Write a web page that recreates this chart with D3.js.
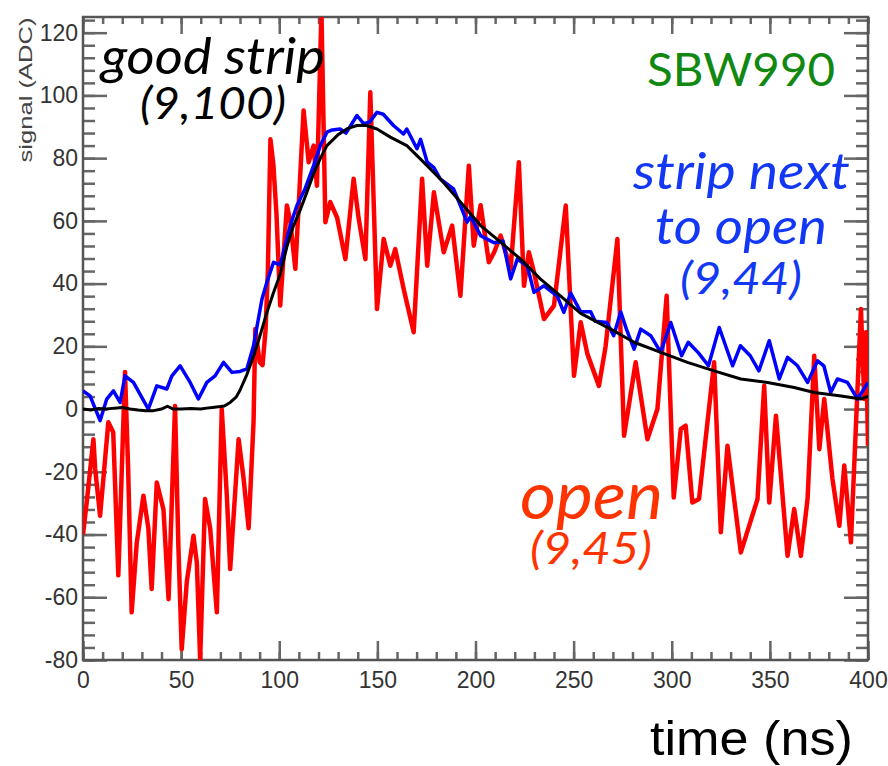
<!DOCTYPE html>
<html>
<head>
<meta charset="utf-8">
<script src="https://cdn.jsdelivr.net/npm/d3@7"></script>
<style>
  body { margin: 0; background: #fff; }
  svg { display: block; }
</style>
</head>
<body>
<svg width="888" height="766"></svg>
<script>
// time (ns) / signal (ADC)
const openTime = [0, 1.9, 5.3, 6.2, 8.7, 10.4, 12.9, 15.4, 18, 21.4, 23, 24.8, 27.4, 30.8, 33.3, 35, 37.6, 41, 43.6, 46.9,
  48.6, 50.3, 52.9, 56.3, 58, 59.7, 62.2, 64.8, 68.2, 70.7, 73.3, 75, 79.3, 81.8, 84.4, 86.9, 87.8, 90, 91.5, 93,
  94.2, 95.5, 97, 98.6, 100.5, 103.9, 105.6, 108.2, 109.9, 112.4, 115, 117.5, 119.2, 121.5, 123.5, 126, 129.5, 133.7, 137.9, 140.4,
  143.9, 146.4, 149.8, 153.2, 156.6, 159.1, 163.4, 168.5, 172.8, 175.4, 178.8, 183.8, 188.1, 192.3, 196.6, 199.1, 202.6, 206.8, 209.5, 212.8,
  217.9, 222.1, 224.7, 227.2, 229.8, 234.9, 240, 246, 248.5, 250.2, 253.6, 257, 262.9, 266.3, 272.3, 275.7, 281.6, 287.6, 292.7, 297.4,
  301, 304.6, 307.1, 310.5, 313.9, 317, 321.6, 325, 328.4, 335.2, 343.7, 347.1, 349.7, 353.1, 359, 362.4, 365.8, 369.2, 372.6, 375.2,
  377.7, 381.9, 385.4, 387.9, 391.3, 396.4, 398.1, 399, 400];
const openSignal = [-40, -29.7, -9.6, -19, -34, -22, -4.2, -7.4, -53, 11.8, -19, -64.8, -42.6, -27.6, -38, -57.4, -23.4, -32, -60.6, 1,
  -43.6, -76.6, -55, -40.4, -48.9, -79.7, -28.7, -38, -64.8, 0, -27.6, -51, -9.6, -22, -38, -4.2, 25.5, 15, 14, 25,
  44, 86, 78, 62, 33, 64.9, 60, 44.7, 65, 95.2, 78.7, 84, 71.2, 127, 59.6, 66, 61, 47.8, 73.4, 61,
  47.8, 101, 31.9, 54.2, 45.7, 51, 38.3, 24.5, 73.4, 45.7, 69.1, 50, 58.5, 36.1, 77.6, 52.1, 65, 46.8, 50, 55.3,
  44.7, 78.7, 39.3, 50, 43.6, 28.7, 33, 64.9, 32, 10.6, 27.7, 17.6, 7.4, 20, 54.2, -8.5, 14.9, -9.6, 0, 36.1,
  -28.2, -6.4, -5.3, -29.8, -28.7, -11, 14.9, -39.3, -11.7, -45.7, -28.7, 7.4, -29.8, -2.1, -46.8, -31.9, -46.8, -28.7, 17, -12.8,
  3.2, -22.3, -37.2, -18, -42.5, 31.9, 3.2, 24.5, -11.7];

const nextTime = [0, 3.6, 8.7, 12.1, 15.5, 18.9, 21.4, 25.7, 33.3, 37.6, 42.7, 45.3, 49.5, 54.6, 58.8, 63.1, 67.3, 71.6, 75.9, 80,
  83.5, 86.9, 91.2, 93.7, 97.1, 100.5, 105.6, 109, 113, 117.5, 120.9, 124.3, 127, 131, 134, 139.6, 143, 146, 149.8, 153,
  158.2, 163.3, 165, 170.2, 172, 175.4, 178.8, 182, 188.8, 192.3, 195.7, 197.5, 202.6, 209.4, 214, 217.9, 221.3, 226.4, 229.8, 234.9,
  241.7, 245, 248.5, 253.6, 258.7, 261, 267, 270.4, 274, 276.9, 280.8, 284.2, 289.3, 294.4, 299.5, 305, 308.4, 313.5, 318.7, 324.2,
  331, 335, 340, 344.4, 349.7, 354.8, 359, 364.1, 369.2, 374.3, 377.5, 381, 384.4, 389.5, 394.7, 400];
const nextSignal = [5.8, 4.2, -3.7, 3.2, 5.8, 2.1, 10.6, 8.5, 0, 7.4, 6.4, 10.6, 13.8, 8.5, 3.2, 8.5, 10.6, 14.9, 11.7, 12,
  12.8, 20.2, 35.1, 40.4, 46.8, 46, 58.5, 64.9, 70, 77.6, 84, 88.3, 89, 89.3, 88, 93.6, 91, 91.5, 94.6, 94,
  90.4, 87.7, 89.3, 83, 86, 78.7, 77, 73.4, 70.2, 64.9, 59.6, 61.4, 55.3, 53, 53.6, 41.5, 47.8, 45.6, 37.2, 39.3,
  36, 30.8, 37, 31, 31, 28, 27.6, 23.4, 31, 25.5, 19.1, 25.5, 23.4, 18.1, 27.6, 17, 21.3, 18, 13.8, 26,
  13.8, 20.2, 17, 12.2, 21.8, 9.6, 16.5, 13.8, 8.5, 15.4, 13.8, 5.3, 9.6, 8.5, 3.2, 8.5];

const goodTime = [0, 4, 8, 12, 16, 20, 24, 28, 32, 36, 40, 43, 46, 50, 55, 60, 63, 66, 70, 72,
  75, 78, 80, 83.5, 87, 90, 93.7, 97, 100.5, 104, 107, 110.7, 114, 117.5, 121, 124.3, 130, 135, 139.6, 144,
  149.8, 156.6, 165, 172, 182, 192.3, 202.6, 212.8, 223, 233, 243.4, 253.6, 268.9, 280.8, 294.4, 308, 321.6, 335.2, 348.8, 362.4,
  372.6, 386.3, 396.4, 400];
const goodSignal = [0, -0.3, 0.2, 0, 0.3, 0.5, 0, -0.3, -0.5, -0.5, 0, 0.9, 0, 0, 0.2, 0, 0.3, 0.5, 0.8, 1,
  2.1, 3.8, 6, 11, 17, 23, 30.8, 37, 43, 52, 58, 63.5, 69, 75, 80, 84, 87.5, 89.5, 90.4, 90.5,
  89.3, 86.7, 84, 79.7, 73.4, 66, 58.5, 53.2, 47.8, 41.5, 36, 30.5, 25.5, 21.3, 18.1, 14.9, 12.2, 9.6, 8.5, 6.9,
  5.3, 4.2, 3.2, 4];

const xTicks = [0, 50, 100, 150, 200, 250, 300, 350, 400];
const yTicks = [-80, -60, -40, -20, 0, 20, 40, 60, 80, 100, 120];

const svg = d3.select('svg');
const x = d3.scaleLinear().domain([0, 400]).range([83, 868]);
const y = d3.scaleLinear().domain([-80, 125]).range([660, 17]);

svg.append('clipPath').attr('id', 'plot')
  .append('rect').attr('x', 83).attr('y', 17).attr('width', 785).attr('height', 643);

// ticks all round, pointing in
function ticks(makeAxis, tx, ty, major, minor, vals, minorVals, pad) {
  const g = svg.append('g').attr('transform', `translate(${tx},${ty})`);
  g.append('g').call(makeAxis().tickValues(minorVals).tickSize(-minor).tickFormat(''));
  const m = g.append('g').call(makeAxis().tickValues(vals).tickSize(-major).tickPadding(pad || 0)
    .tickFormat(pad ? d => d : ''));
  g.selectAll('.domain').remove();
  g.selectAll('line').attr('stroke', '#666').attr('stroke-width', 2.5);
  m.selectAll('text').attr('font-family', 'Liberation Sans, Arial, sans-serif')
    .attr('font-size', 23).attr('fill', '#333');
  return g;
}
ticks(() => d3.axisLeft(y), 83, 0, 24, 12, yTicks, d3.range(-80, 125, 4), 5);
ticks(() => d3.axisRight(y), 868, 0, 24, 12, yTicks, d3.range(-80, 125, 4), 0);
ticks(() => d3.axisBottom(x), 0, 660, 19, 8, xTicks, d3.range(0, 401, 10), 12);
ticks(() => d3.axisTop(x), 0, 17, 17, 7, xTicks, d3.range(0, 401, 10), 0);

svg.append('rect').attr('x', 83).attr('y', 17).attr('width', 785).attr('height', 643)
  .attr('fill', 'none').attr('stroke', '#555').attr('stroke-width', 2.5);

const line = d3.line().x(d => x(d[0])).y(d => y(d[1]));
const series = [
  [openTime, openSignal, '#ff0000', 4.5],
  [nextTime, nextSignal, '#0000ff', 3.5],
  [goodTime, goodSignal, '#000000', 3]
];
series.forEach(s => {
  svg.append('path')
    .datum(s[0].map((t, i) => [t, s[1][i]]))
    .attr('clip-path', 'url(#plot)')
    .attr('d', line)
    .attr('fill', 'none')
    .attr('stroke', s[2])
    .attr('stroke-width', s[3])
    .attr('stroke-linejoin', 'round');
});

// labels on the plot
const notes = [
  ['good strip', 101, 74, 224, 50, '#000', 'italic'],
  ['(9,100)', 140, 119, 146, 44, '#000', 'italic'],
  ['SBW990', 647, 86, 188, 46, '#118811', 'normal'],
  ['strip next', 633, 189, 217, 50, '#1238f5', 'italic'],
  ['to open', 655, 244, 172, 50, '#1238f5', 'italic'],
  ['(9,44)', 680, 294, 122, 44, '#1238f5', 'italic'],
  ['open', 520, 519, 143, 66, '#ff3300', 'italic'],
  ['(9,45)', 530, 564, 122, 44, '#ff3300', 'italic']
];
notes.forEach(n => {
  svg.append('text').attr('x', n[1]).attr('y', n[2])
    .attr('textLength', n[3]).attr('lengthAdjust', 'spacingAndGlyphs')
    .attr('font-family', 'Lato, "Open Sans", sans-serif')
    .attr('font-size', n[4]).attr('font-style', n[6])
    .attr('fill', n[5]).text(n[0]);
});

svg.append('text').attr('x', 650).attr('y', 755)
  .attr('textLength', 203).attr('lengthAdjust', 'spacingAndGlyphs')
  .attr('font-family', 'Liberation Sans, Arial, sans-serif')
  .attr('font-size', 48).attr('fill', '#000').text('time (ns)');

svg.append('text').attr('transform', 'translate(32,90) rotate(-90)')
  .attr('text-anchor', 'middle')
  .attr('textLength', 145).attr('lengthAdjust', 'spacingAndGlyphs')
  .attr('font-family', 'Liberation Sans, Arial, sans-serif')
  .attr('font-size', 18).attr('fill', '#444').text('signal (ADC)');
</script>
</body>
</html>
